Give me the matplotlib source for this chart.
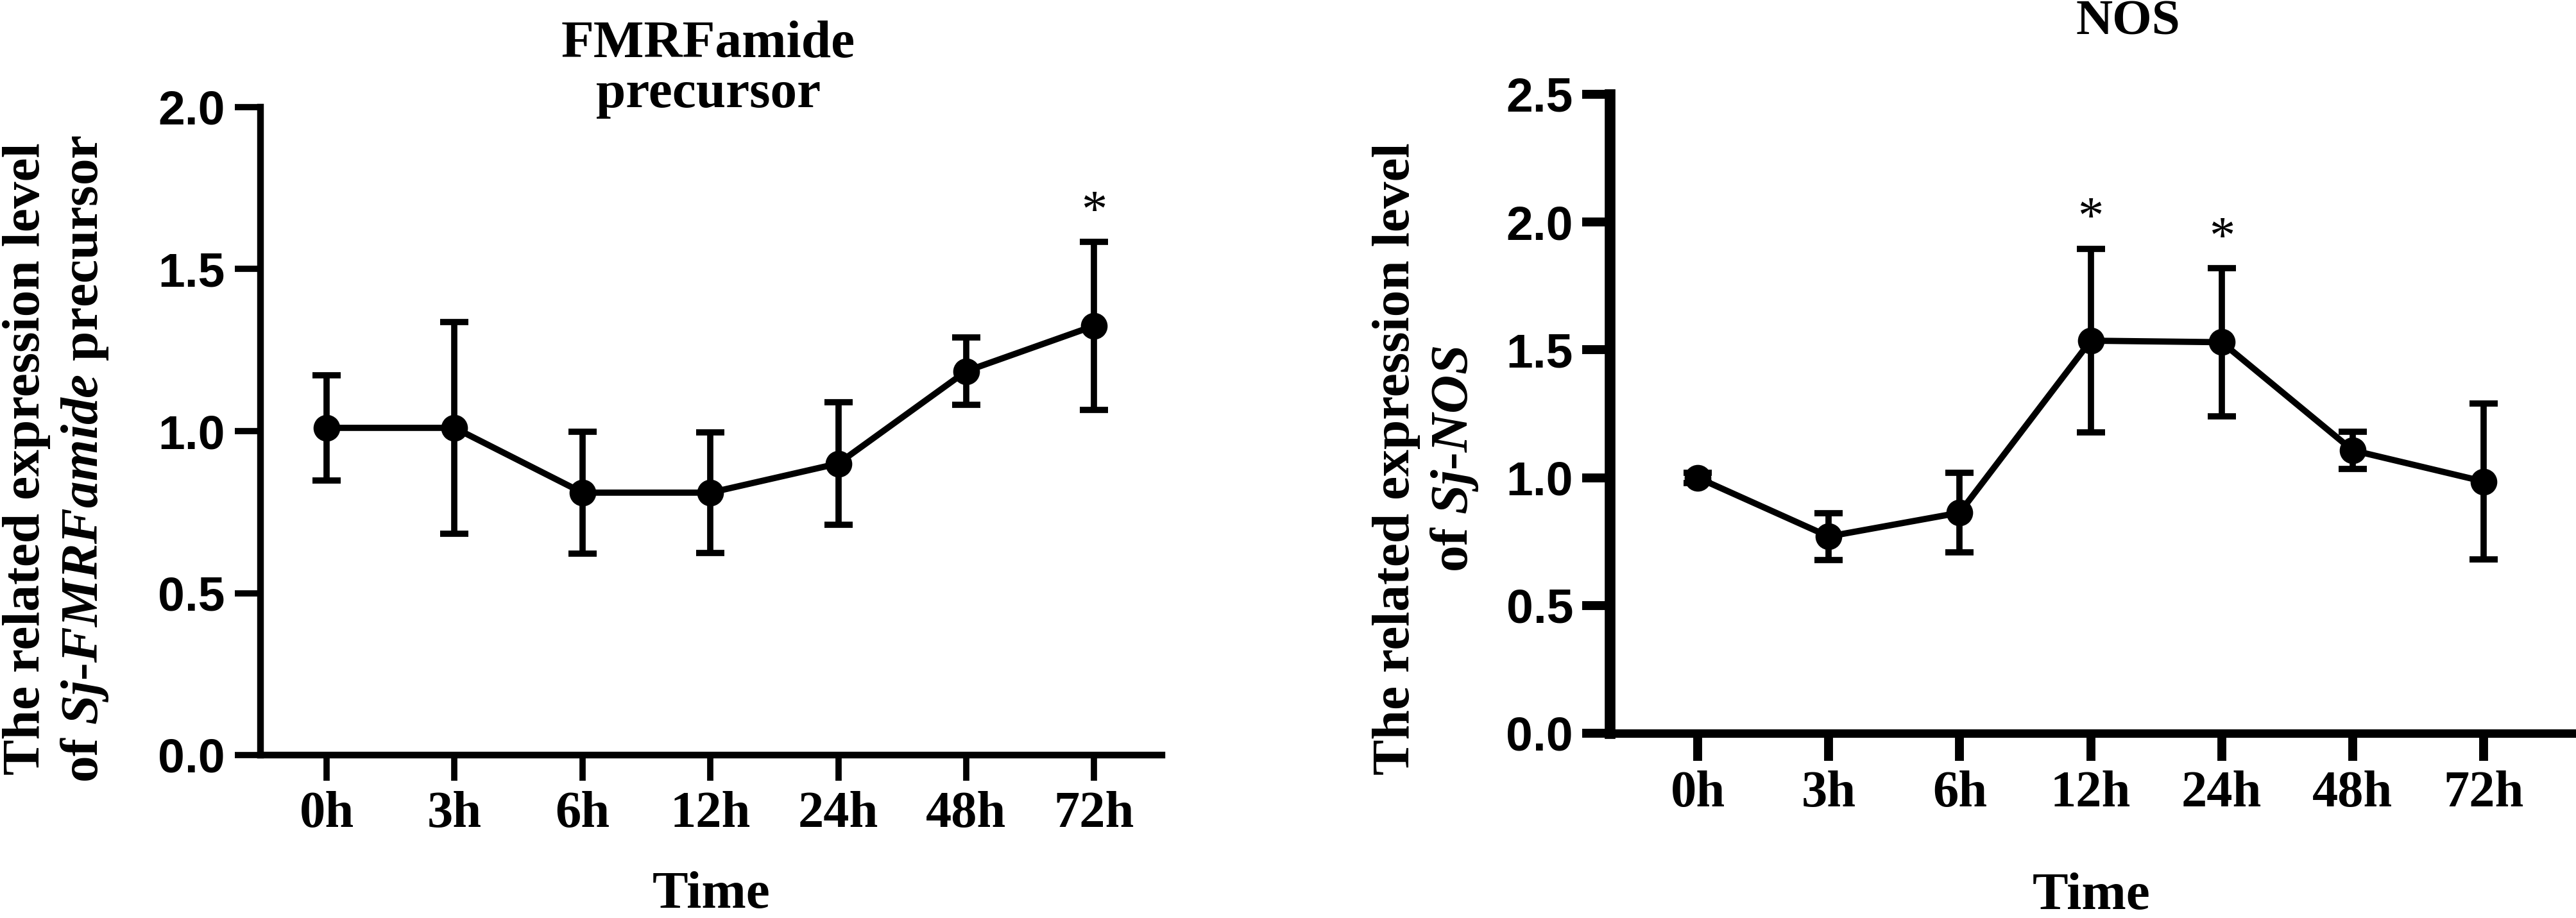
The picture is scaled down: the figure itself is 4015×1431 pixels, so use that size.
import numpy as np
import matplotlib.pyplot as plt

# =========================
# DATA
# =========================
times = ["0h", "3h", "6h", "12h", "24h", "48h", "72h"]

fmrf_mean = [1.01, 1.01, 0.81, 0.81, 0.90, 1.185, 1.325]
fmrf_err = [0.163, 0.326, 0.188, 0.186, 0.189, 0.104, 0.259]
fmrf_star = [False, False, False, False, False, False, True]

nos_mean = [1.00, 0.77, 0.863, 1.536, 1.53, 1.107, 0.985]
nos_err = [0.02, 0.092, 0.155, 0.36, 0.29, 0.073, 0.305]
nos_star = [False, False, False, True, True, False, False]

# =========================
# STYLE
# =========================
plt.rcParams['font.family'] = ['Liberation Serif', 'DejaVu Serif']
plt.rcParams['font.weight'] = 'bold'
plt.rcParams['mathtext.fontset'] = 'custom'
plt.rcParams['mathtext.rm'] = 'Liberation Serif:bold'
plt.rcParams['mathtext.it'] = 'Liberation Serif:italic:bold'
plt.rcParams['mathtext.bf'] = 'Liberation Serif:bold'
plt.rcParams['mathtext.bfit'] = 'Liberation Serif:italic:bold'

W, H = 4016, 1431
fig = plt.figure(figsize=(W / 100, H / 100), dpi=100)


def px_axes(x0, x1, ytop, ybot):
    return fig.add_axes([x0 / W, 1 - ybot / H, (x1 - x0) / W, (ybot - ytop) / H])


def draw_panel(ax, mean, err, stars, ymax, spine_w, tick_w, tick_len, xlim, ypad):
    x = np.arange(len(times))
    ax.errorbar(x, mean, yerr=err, color='black', marker='o', markersize=29,
                linewidth=7, elinewidth=7, capsize=15.5, capthick=7, zorder=3,
                clip_on=False)
    for xi, m, e, s in zip(x, mean, err, stars):
        if s:
            ax.annotate('*', (xi, m + e), xytext=(0, 6), textcoords='offset points',
                        ha='center', va='bottom', fontsize=58, fontweight='normal')
    ax.set_xlim(*xlim)
    ax.set_ylim(0, ymax)
    ax.set_yticks(np.arange(0, ymax + 0.01, 0.5))
    ax.set_yticklabels([f"{v:.1f}" for v in np.arange(0, ymax + 0.01, 0.5)],
                       family='Liberation Sans', fontweight='bold', fontsize=54)
    ax.set_xticks(x)
    ax.set_xticklabels(times, fontsize=58, fontweight='bold')
    for side in ['top', 'right']:
        ax.spines[side].set_visible(False)
    ax.spines['left'].set_linewidth(spine_w[0])
    ax.spines['bottom'].set_linewidth(spine_w[1])
    ax.tick_params(axis='both', width=tick_w, length=tick_len, color='black')
    ax.tick_params(axis='y', pad=ypad)
    ax.tick_params(axis='x', pad=11)


# =========================
# LEFT PANEL: FMRFamide precursor
# =========================
ax1 = px_axes(406, 1811, 167, 1177)
draw_panel(ax1, fmrf_mean, fmrf_err, fmrf_star, 2.0, (7.5, 7.5), 7, 29,
           (-0.517, 6.53), 11)
ax1.set_xlabel("Time", fontsize=60, fontweight='bold', labelpad=38)
ax1.set_ylabel("The related expression level\n"
               r"of $\mathbfit{Sj}$-$\mathbfit{FMRFamide}$ precursor",
               fontsize=60, fontweight='bold')
ax1.yaxis.set_label_coords(172 / W, 0.5, transform=fig.transFigure)
fig.text(1104 / W, 1 - 185 / H, "FMRFamide\nprecursor", ha='center', va='bottom',
         fontsize=60, fontweight='bold', linespacing=1.05)

# =========================
# RIGHT PANEL: NOS
# =========================
ax2 = px_axes(2509, 4010, 147, 1143)
draw_panel(ax2, nos_mean, nos_err, nos_star, 2.5, (12, 9.5), 10, 31,
           (-0.671, 6.68), 10)
ax2.set_xlabel("Time", fontsize=60, fontweight='bold', labelpad=62)
ax2.set_ylabel("The related expression level\n"
               r"of $\mathbfit{Sj}$-$\mathbfit{NOS}$",
               fontsize=60, fontweight='bold')
ax2.yaxis.set_label_coords(2307 / W, 0.5, transform=fig.transFigure)
fig.text(3317 / W, 1 - 70 / H, "NOS", ha='center', va='bottom',
         fontsize=57, fontweight='bold')

fig.savefig("out.png", dpi=100, facecolor='white')
